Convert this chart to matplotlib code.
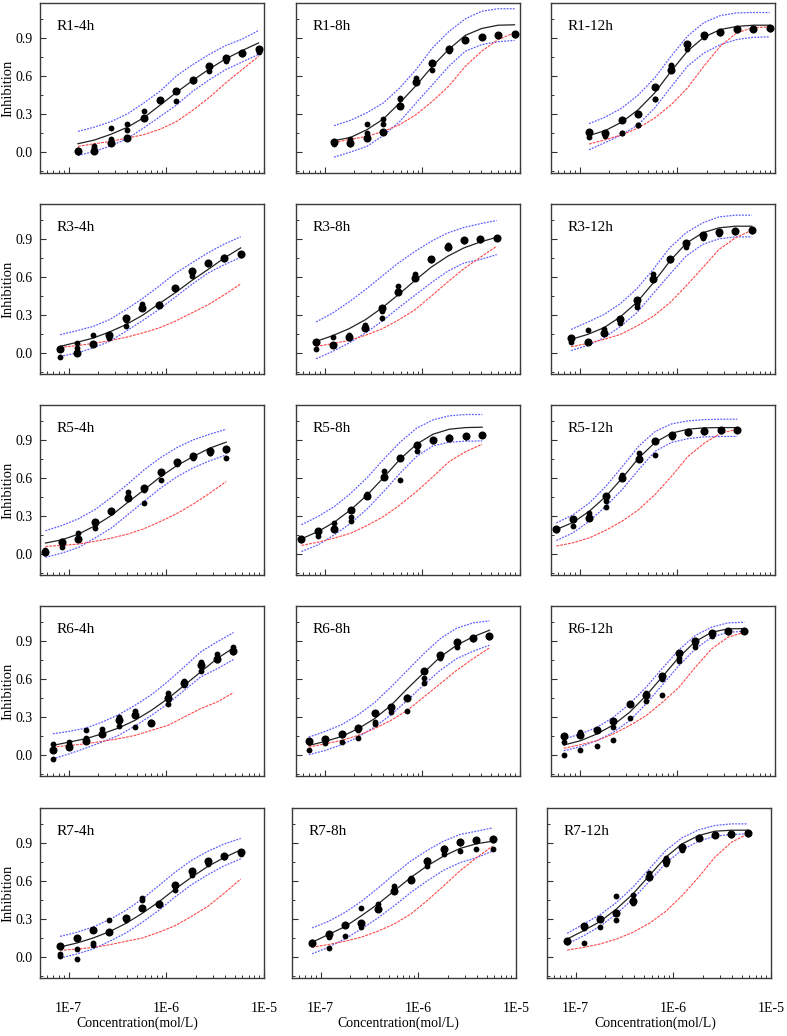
import matplotlib
matplotlib.use("Agg")
import matplotlib.pyplot as plt
from matplotlib.ticker import FixedLocator, LogLocator, NullFormatter, MultipleLocator

plt.rcParams["font.family"] = ["Liberation Serif", "DejaVu Serif"]

# concentrations (mol/L) used in each row
conc_r1 = [1.25e-7, 1.84e-7, 2.71e-7, 3.99e-7, 5.87e-7, 8.65e-7, 1.27e-6, 1.87e-6, 2.76e-6, 4.06e-6, 5.98e-6, 8.81e-6]
conc_r3 = [8.2e-8, 1.21e-7, 1.78e-7, 2.62e-7, 3.86e-7, 5.69e-7, 8.38e-7, 1.23e-6, 1.82e-6, 2.67e-6, 3.94e-6, 5.79e-6]
conc_r5 = [5.8e-8, 8.6e-8, 1.26e-7, 1.86e-7, 2.74e-7, 4.03e-7, 5.93e-7, 8.74e-7, 1.29e-6, 1.89e-6, 2.79e-6, 4.11e-6]
conc_r6 = [6.9e-8, 1.02e-7, 1.5e-7, 2.21e-7, 3.25e-7, 4.79e-7, 7.05e-7, 1.04e-6, 1.53e-6, 2.25e-6, 3.31e-6, 4.88e-6]
conc_r7 = [8.2e-8, 1.21e-7, 1.78e-7, 2.62e-7, 3.86e-7, 5.69e-7, 8.38e-7, 1.23e-6, 1.82e-6, 2.67e-6, 3.94e-6, 5.79e-6]

# ---- R1 ----
r1_4h_pts = [[0.01, 0.01, 0.07, 0.11, 0.27, 0.41, 0.48, 0.57, 0.68, 0.74, 0.78, 0.81],
             [0.02, 0.05, 0.10, 0.17, 0.32, 0.41, 0.40, 0.56, 0.64, 0.72, 0.77, 0.79],
             [0.00, 0.03, 0.19, 0.22, 0.27, 0.41, 0.48, 0.57, 0.68, 0.73, 0.78, 0.80]]
r1_4h_fit = [0.066, 0.095, 0.14, 0.195, 0.27, 0.37, 0.47, 0.565, 0.655, 0.735, 0.80, 0.86]
r1_4h_hi = [0.163, 0.197, 0.24, 0.30, 0.387, 0.48, 0.60, 0.69, 0.77, 0.84, 0.89, 0.958]
r1_4h_lo = [-0.026, 0.005, 0.05, 0.105, 0.19, 0.28, 0.37, 0.48, 0.57, 0.65, 0.71, 0.77]
r1_4h_red = [0.045, 0.066, 0.084, 0.11, 0.137, 0.18, 0.24, 0.33, 0.43, 0.545, 0.65, 0.755]

r1_8h_pts = [[0.08, 0.07, 0.11, 0.16, 0.36, 0.55, 0.70, 0.81, 0.88, 0.91, 0.92, 0.93],
             [0.06, 0.10, 0.15, 0.22, 0.43, 0.58, 0.645, 0.80, 0.89, 0.91, 0.92, 0.92],
             [0.07, 0.06, 0.22, 0.26, 0.42, 0.56, 0.70, 0.81, 0.88, 0.91, 0.92, 0.93]]
r1_8h_fit = [0.09, 0.115, 0.176, 0.26, 0.387, 0.524, 0.676, 0.81, 0.92, 0.974, 1.0, 1.003]
r1_8h_hi = [0.208, 0.25, 0.31, 0.387, 0.505, 0.65, 0.82, 0.95, 1.05, 1.11, 1.13, 1.13]
r1_8h_lo = [-0.04, 0.0, 0.045, 0.13, 0.24, 0.387, 0.53, 0.676, 0.795, 0.847, 0.87, 0.88]
r1_8h_red = [0.076, 0.10, 0.124, 0.163, 0.216, 0.295, 0.40, 0.52, 0.676, 0.795, 0.887, 0.94]

r1_12h_pts = [[0.16, 0.15, 0.25, 0.30, 0.51, 0.645, 0.85, 0.92, 0.95, 0.97, 0.97, 0.976],
              [0.12, 0.13, 0.15, 0.21, 0.42, 0.69, 0.81, 0.92, 0.95, 0.96, 0.97, 0.97],
              [0.14, 0.14, 0.15, 0.21, 0.42, 0.68, 0.84, 0.91, 0.94, 0.97, 0.97, 0.98]]
r1_12h_fit = [0.13, 0.17, 0.237, 0.334, 0.466, 0.637, 0.795, 0.905, 0.966, 0.99, 1.0, 1.0]
r1_12h_hi = [0.224, 0.276, 0.347, 0.45, 0.584, 0.755, 0.913, 1.02, 1.076, 1.097, 1.1, 1.1]
r1_12h_lo = [0.018, 0.076, 0.137, 0.216, 0.347, 0.513, 0.676, 0.78, 0.847, 0.887, 0.905, 0.908]
r1_12h_red = [0.063, 0.097, 0.137, 0.19, 0.268, 0.373, 0.505, 0.676, 0.834, 0.94, 0.98, 0.987]

# ---- R3 ----
r3_4h_pts = [[0.035, 0.0, 0.07, 0.145, 0.28, 0.355, 0.38, 0.51, 0.645, 0.71, 0.75, 0.78],
             [-0.03, 0.08, 0.14, 0.12, 0.21, 0.39, 0.39, 0.51, 0.61, 0.70, 0.76, 0.77],
             [0.03, 0.04, 0.07, 0.13, 0.26, 0.36, 0.38, 0.51, 0.63, 0.71, 0.74, 0.78]]
r3_4h_fit = [0.053, 0.084, 0.118, 0.166, 0.224, 0.297, 0.387, 0.474, 0.571, 0.658, 0.75, 0.829]
r3_4h_hi = [0.145, 0.176, 0.21, 0.263, 0.342, 0.429, 0.526, 0.626, 0.71, 0.79, 0.86, 0.916]
r3_4h_lo = [-0.026, 0.0, 0.04, 0.092, 0.171, 0.255, 0.342, 0.44, 0.54, 0.63, 0.697, 0.755]
r3_4h_red = [0.045, 0.058, 0.076, 0.097, 0.124, 0.158, 0.197, 0.25, 0.316, 0.38, 0.46, 0.545]

r3_8h_pts = [[0.09, 0.06, 0.125, 0.2, 0.355, 0.48, 0.59, 0.74, 0.84, 0.89, 0.90, 0.91],
             [0.035, 0.125, 0.145, 0.22, 0.28, 0.526, 0.62, 0.74, 0.855, 0.89, 0.90, 0.91],
             [0.08, 0.065, 0.12, 0.21, 0.335, 0.49, 0.60, 0.73, 0.83, 0.88, 0.89, 0.91]]
r3_8h_fit = [0.092, 0.137, 0.192, 0.263, 0.355, 0.46, 0.571, 0.676, 0.763, 0.829, 0.876, 0.913]
r3_8h_hi = [0.245, 0.316, 0.403, 0.50, 0.605, 0.71, 0.80, 0.88, 0.947, 0.99, 1.02, 1.045]
r3_8h_lo = [-0.045, 0.013, 0.079, 0.158, 0.25, 0.355, 0.455, 0.553, 0.645, 0.71, 0.737, 0.776]
r3_8h_red = [0.053, 0.074, 0.10, 0.14, 0.19, 0.26, 0.34, 0.447, 0.56, 0.665, 0.755, 0.842]

r3_12h_pts = [[0.12, 0.09, 0.16, 0.265, 0.42, 0.58, 0.74, 0.87, 0.93, 0.955, 0.96, 0.968],
              [0.09, 0.18, 0.19, 0.235, 0.36, 0.62, 0.74, 0.84, 0.91, 0.94, 0.96, 0.968],
              [0.11, 0.09, 0.17, 0.25, 0.39, 0.59, 0.73, 0.86, 0.93, 0.95, 0.955, 0.965]]
r3_12h_fit = [0.108, 0.147, 0.20, 0.286, 0.40, 0.554, 0.724, 0.864, 0.948, 0.987, 1.0, 1.0]
r3_12h_hi = [0.186, 0.244, 0.304, 0.39, 0.507, 0.66, 0.83, 0.948, 1.026, 1.073, 1.087, 1.087]
r3_12h_lo = [0.02, 0.06, 0.12, 0.21, 0.318, 0.47, 0.62, 0.764, 0.856, 0.9, 0.916, 0.916]
r3_12h_red = [0.05, 0.076, 0.108, 0.147, 0.213, 0.29, 0.396, 0.528, 0.672, 0.816, 0.908, 0.968]

# ---- R5 ----
r5_4h_pts = [[0.02, 0.095, 0.12, 0.255, 0.34, 0.445, 0.52, 0.65, 0.725, 0.77, 0.81, 0.83],
             [0.03, 0.055, 0.165, 0.205, 0.34, 0.49, 0.40, 0.585, 0.71, 0.755, 0.795, 0.755],
             [0.01, 0.10, 0.12, 0.235, 0.33, 0.455, 0.505, 0.64, 0.72, 0.775, 0.80, 0.82]]
r5_4h_fit = [0.087, 0.113, 0.157, 0.223, 0.304, 0.407, 0.506, 0.61, 0.698, 0.769, 0.835, 0.882]
r5_4h_hi = [0.184, 0.226, 0.278, 0.35, 0.446, 0.551, 0.664, 0.76, 0.84, 0.90, 0.945, 0.984]
r5_4h_lo = [-0.026, 0.008, 0.052, 0.126, 0.205, 0.31, 0.415, 0.52, 0.61, 0.68, 0.735, 0.782]
r5_4h_red = [0.06, 0.068, 0.079, 0.10, 0.126, 0.157, 0.20, 0.257, 0.32, 0.394, 0.48, 0.572]

r5_8h_pts = [[0.118, 0.185, 0.2, 0.35, 0.46, 0.605, 0.755, 0.86, 0.90, 0.916, 0.93, 0.94],
             [0.11, 0.14, 0.245, 0.29, 0.47, 0.655, 0.585, 0.81, 0.89, 0.91, 0.925, 0.935],
             [0.12, 0.175, 0.2, 0.26, 0.46, 0.61, 0.76, 0.85, 0.90, 0.92, 0.93, 0.94]]
r5_8h_fit = [0.12, 0.178, 0.252, 0.35, 0.467, 0.604, 0.748, 0.866, 0.945, 0.984, 0.997, 1.0]
r5_8h_hi = [0.231, 0.297, 0.375, 0.48, 0.604, 0.748, 0.882, 0.992, 1.058, 1.09, 1.10, 1.10]
r5_8h_lo = [0.02, 0.073, 0.152, 0.244, 0.357, 0.493, 0.638, 0.769, 0.853, 0.882, 0.89, 0.892]
r5_8h_red = [0.068, 0.094, 0.126, 0.165, 0.226, 0.297, 0.388, 0.493, 0.61, 0.73, 0.808, 0.866]

r5_12h_pts = [[0.20, 0.28, 0.285, 0.46, 0.60, 0.75, 0.893, 0.94, 0.96, 0.97, 0.974, 0.98],
              [0.19, 0.225, 0.325, 0.37, 0.626, 0.80, 0.78, 0.92, 0.955, 0.965, 0.97, 0.975],
              [0.20, 0.27, 0.30, 0.42, 0.61, 0.75, 0.89, 0.93, 0.96, 0.97, 0.975, 0.98]]
r5_12h_fit = [0.194, 0.25, 0.338, 0.455, 0.6, 0.757, 0.88, 0.953, 0.984, 0.995, 0.997, 0.997]
r5_12h_hi = [0.246, 0.31, 0.403, 0.534, 0.69, 0.85, 0.966, 1.026, 1.05, 1.06, 1.063, 1.063]
r5_12h_lo = [0.107, 0.168, 0.26, 0.377, 0.51, 0.665, 0.81, 0.88, 0.91, 0.924, 0.927, 0.927]
r5_12h_red = [0.063, 0.089, 0.128, 0.188, 0.26, 0.35, 0.47, 0.613, 0.77, 0.874, 0.953, 0.984]

# ---- R6 ----
r6_4h_pts = [[0.04, 0.065, 0.11, 0.165, 0.28, 0.315, 0.255, 0.45, 0.565, 0.71, 0.76, 0.82],
             [0.085, 0.10, 0.195, 0.205, 0.23, 0.22, 0.255, 0.405, 0.58, 0.66, 0.80, 0.85],
             [-0.03, 0.08, 0.135, 0.17, 0.30, 0.345, 0.26, 0.49, 0.55, 0.73, 0.75, 0.81]]
r6_4h_fit = [0.076, 0.103, 0.129, 0.168, 0.213, 0.274, 0.353, 0.445, 0.55, 0.655, 0.76, 0.845]
r6_4h_hi = [0.168, 0.187, 0.213, 0.26, 0.318, 0.392, 0.476, 0.58, 0.695, 0.813, 0.892, 0.966]
r6_4h_lo = [-0.03, 0.01, 0.055, 0.103, 0.155, 0.229, 0.313, 0.405, 0.51, 0.616, 0.68, 0.753]
r6_4h_red = [0.063, 0.076, 0.089, 0.108, 0.129, 0.155, 0.195, 0.234, 0.30, 0.366, 0.418, 0.492]

r6_8h_pts = [[0.11, 0.13, 0.165, 0.21, 0.335, 0.38, 0.45, 0.66, 0.785, 0.89, 0.92, 0.937],
             [0.04, 0.095, 0.10, 0.135, 0.26, 0.34, 0.35, 0.57, 0.765, 0.85, 0.92, 0.93],
             [0.10, 0.12, 0.16, 0.20, 0.245, 0.37, 0.455, 0.61, 0.77, 0.88, 0.915, 0.935]]
r6_8h_fit = [0.076, 0.108, 0.147, 0.208, 0.287, 0.392, 0.524, 0.65, 0.774, 0.866, 0.932, 0.984]
r6_8h_hi = [0.142, 0.187, 0.24, 0.318, 0.413, 0.537, 0.668, 0.80, 0.918, 1.0, 1.042, 1.058]
r6_8h_lo = [0.003, 0.037, 0.082, 0.142, 0.221, 0.318, 0.432, 0.555, 0.668, 0.76, 0.818, 0.866]
r6_8h_red = [0.063, 0.089, 0.116, 0.155, 0.208, 0.274, 0.353, 0.458, 0.563, 0.668, 0.76, 0.845]

r6_12h_pts = [[0.15, 0.16, 0.20, 0.265, 0.405, 0.47, 0.62, 0.805, 0.897, 0.963, 0.976, 0.98],
              [0.105, 0.04, 0.074, 0.22, 0.29, 0.43, 0.476, 0.745, 0.855, 0.942, 0.97, 0.975],
              [0.0, 0.18, 0.2, 0.12, 0.40, 0.49, 0.60, 0.765, 0.876, 0.96, 0.975, 0.98]]
r6_12h_fit = [0.079, 0.113, 0.166, 0.237, 0.337, 0.468, 0.618, 0.771, 0.895, 0.968, 0.995, 0.997]
r6_12h_hi = [0.126, 0.166, 0.218, 0.297, 0.403, 0.534, 0.684, 0.83, 0.942, 1.008, 1.042, 1.047]
r6_12h_lo = [0.034, 0.066, 0.113, 0.179, 0.271, 0.403, 0.553, 0.705, 0.837, 0.929, 0.968, 0.976]
r6_12h_red = [0.053, 0.082, 0.113, 0.166, 0.232, 0.31, 0.416, 0.534, 0.692, 0.837, 0.929, 0.968]

# ---- R7 ----
r7_4h_pts = [[0.09, 0.15, 0.21, 0.195, 0.31, 0.39, 0.42, 0.57, 0.68, 0.755, 0.80, 0.83],
             [0.025, 0.065, 0.095, 0.29, 0.295, 0.465, 0.41, 0.53, 0.65, 0.73, 0.79, 0.815],
             [0.005, -0.015, 0.11, 0.20, 0.30, 0.45, 0.415, 0.56, 0.67, 0.75, 0.80, 0.825]]
r7_4h_fit = [0.08, 0.11, 0.15, 0.2, 0.265, 0.345, 0.435, 0.535, 0.63, 0.715, 0.785, 0.845]
r7_4h_hi = [0.163, 0.195, 0.237, 0.295, 0.368, 0.458, 0.563, 0.668, 0.763, 0.834, 0.892, 0.935]
r7_4h_lo = [-0.008, 0.024, 0.063, 0.124, 0.19, 0.274, 0.368, 0.474, 0.571, 0.65, 0.72, 0.774]
r7_4h_red = [0.053, 0.063, 0.076, 0.097, 0.124, 0.15, 0.195, 0.247, 0.321, 0.40, 0.505, 0.616]

r7_8h_pts = [[0.11, 0.18, 0.25, 0.265, 0.38, 0.52, 0.605, 0.76, 0.855, 0.91, 0.92, 0.93],
             [0.10, 0.075, 0.17, 0.39, 0.42, 0.56, 0.62, 0.72, 0.815, 0.84, 0.855, 0.85],
             [0.12, 0.16, 0.25, 0.24, 0.385, 0.525, 0.61, 0.765, 0.86, 0.90, 0.92, 0.925]]
r7_8h_fit = [0.117, 0.178, 0.24, 0.326, 0.418, 0.522, 0.627, 0.718, 0.796, 0.856, 0.893, 0.914]
r7_8h_hi = [0.23, 0.282, 0.352, 0.439, 0.543, 0.653, 0.757, 0.84, 0.914, 0.966, 0.992, 1.018]
r7_8h_lo = [0.026, 0.078, 0.144, 0.222, 0.308, 0.405, 0.509, 0.60, 0.684, 0.744, 0.783, 0.836]
r7_8h_red = [0.078, 0.099, 0.125, 0.157, 0.204, 0.261, 0.339, 0.444, 0.561, 0.679, 0.783, 0.875]

r7_12h_pts = [[0.125, 0.245, 0.30, 0.345, 0.445, 0.63, 0.755, 0.87, 0.94, 0.963, 0.97, 0.976],
              [0.12, 0.11, 0.235, 0.48, 0.49, 0.66, 0.78, 0.845, 0.935, 0.96, 0.965, 0.97],
              [0.13, 0.23, 0.30, 0.29, 0.43, 0.635, 0.735, 0.86, 0.94, 0.965, 0.97, 0.975]]
r7_12h_fit = [0.142, 0.208, 0.28, 0.379, 0.497, 0.642, 0.787, 0.892, 0.958, 0.992, 1.0, 1.0]
r7_12h_hi = [0.187, 0.26, 0.334, 0.43, 0.55, 0.695, 0.84, 0.94, 1.003, 1.037, 1.05, 1.05]
r7_12h_lo = [0.103, 0.168, 0.242, 0.34, 0.458, 0.597, 0.74, 0.845, 0.913, 0.953, 0.966, 0.971]
r7_12h_red = [0.055, 0.076, 0.103, 0.142, 0.195, 0.266, 0.36, 0.484, 0.63, 0.787, 0.905, 0.971]

x_ticks = [1e-7, 1e-6, 1e-5]
x_tick_labels = ["1E-7", "1E-6", "1E-5"]
y_ticks = [0.0, 0.3, 0.6, 0.9]

panels = [
    [("R1-4h", conc_r1, r1_4h_pts, r1_4h_fit, r1_4h_hi, r1_4h_lo, r1_4h_red),
     ("R1-8h", conc_r1, r1_8h_pts, r1_8h_fit, r1_8h_hi, r1_8h_lo, r1_8h_red),
     ("R1-12h", conc_r1, r1_12h_pts, r1_12h_fit, r1_12h_hi, r1_12h_lo, r1_12h_red)],
    [("R3-4h", conc_r3, r3_4h_pts, r3_4h_fit, r3_4h_hi, r3_4h_lo, r3_4h_red),
     ("R3-8h", conc_r3, r3_8h_pts, r3_8h_fit, r3_8h_hi, r3_8h_lo, r3_8h_red),
     ("R3-12h", conc_r3, r3_12h_pts, r3_12h_fit, r3_12h_hi, r3_12h_lo, r3_12h_red)],
    [("R5-4h", conc_r5, r5_4h_pts, r5_4h_fit, r5_4h_hi, r5_4h_lo, r5_4h_red),
     ("R5-8h", conc_r5, r5_8h_pts, r5_8h_fit, r5_8h_hi, r5_8h_lo, r5_8h_red),
     ("R5-12h", conc_r5, r5_12h_pts, r5_12h_fit, r5_12h_hi, r5_12h_lo, r5_12h_red)],
    [("R6-4h", conc_r6, r6_4h_pts, r6_4h_fit, r6_4h_hi, r6_4h_lo, r6_4h_red),
     ("R6-8h", conc_r6, r6_8h_pts, r6_8h_fit, r6_8h_hi, r6_8h_lo, r6_8h_red),
     ("R6-12h", conc_r6, r6_12h_pts, r6_12h_fit, r6_12h_hi, r6_12h_lo, r6_12h_red)],
    [("R7-4h", conc_r7, r7_4h_pts, r7_4h_fit, r7_4h_hi, r7_4h_lo, r7_4h_red),
     ("R7-8h", conc_r7, r7_8h_pts, r7_8h_fit, r7_8h_hi, r7_8h_lo, r7_8h_red),
     ("R7-12h", conc_r7, r7_12h_pts, r7_12h_fit, r7_12h_hi, r7_12h_lo, r7_12h_red)],
]

W, H = 787, 1036
fig = plt.figure(figsize=(W / 100, H / 100), dpi=100)

col_left = [40, 296, 551]
row_top = [3, 204, 405, 606, 808]
ax_w, ax_h = 224, 170
xlabel_x = [0.435, 0.476, 0.482]

for r, row in enumerate(panels):
    for c, (name, conc, pts, fit, hi, lo, red) in enumerate(row):
        left = col_left[c]
        if r == 4 and c > 0:
            left -= 4
        ax = fig.add_axes([left / W, 1 - (row_top[r] + ax_h) / H, ax_w / W, ax_h / H])
        ax.set_xscale("log")

        ax.plot(conc, hi, color="#5f5fff", lw=0.9, ls=(0, (1.5, 1)))
        ax.plot(conc, lo, color="#5f5fff", lw=0.9, ls=(0, (1.5, 1)))
        ax.plot(conc, red, color="#ff4646", lw=0.8, ls=(0, (2.5, 1)))
        ax.plot(conc, fit, color="#222222", lw=0.9)
        ax.plot(conc, pts[1], "o", color="black", ms=4.2, mew=0, zorder=5)
        ax.plot(conc, pts[2], "o", color="black", ms=4.2, mew=0, zorder=5)
        ax.plot(conc, pts[0], "o", color="black", ms=5.8, mew=0, zorder=6)

        ax.set_xlim(5.1e-8, 1.002e-5)
        ax.set_ylim(-0.165, 1.175)
        ax.xaxis.set_major_locator(FixedLocator(x_ticks))
        ax.xaxis.set_minor_locator(LogLocator(base=10, subs=[2, 3, 4, 5, 6, 7, 8, 9]))
        ax.xaxis.set_minor_formatter(NullFormatter())
        ax.yaxis.set_major_locator(FixedLocator(y_ticks))
        ax.yaxis.set_minor_locator(MultipleLocator(0.15))

        ax.tick_params(which="both", direction="in", top=False, right=False,
                       color="#333333", labelsize=10)
        ax.tick_params(which="major", length=4, width=0.8)
        ax.tick_params(which="minor", length=2.2, width=0.7)
        ax.tick_params(axis="x", pad=17)
        ax.tick_params(axis="y", pad=5)
        for sp in ax.spines.values():
            sp.set_color("#3a3a3a")
            sp.set_linewidth(1.0)

        if r == 4:
            ax.set_xticklabels(x_tick_labels)
            ax.set_xlabel("Concentration(mol/L)", fontsize=10)
            ax.xaxis.set_label_coords(xlabel_x[c], -0.225)
        else:
            ax.set_xticklabels([])
        if c == 0:
            ax.set_yticklabels(["0.0", "0.3", "0.6", "0.9"])
            ax.set_ylabel("Inhibition", fontsize=10.5)
            ax.yaxis.set_label_coords(-0.115, 0.5)
        else:
            ax.set_yticklabels([])

        ax.text(0.075, 0.86, name, transform=ax.transAxes, fontsize=11,
                ha="left", va="center")

fig.savefig("out.png", dpi=100)
